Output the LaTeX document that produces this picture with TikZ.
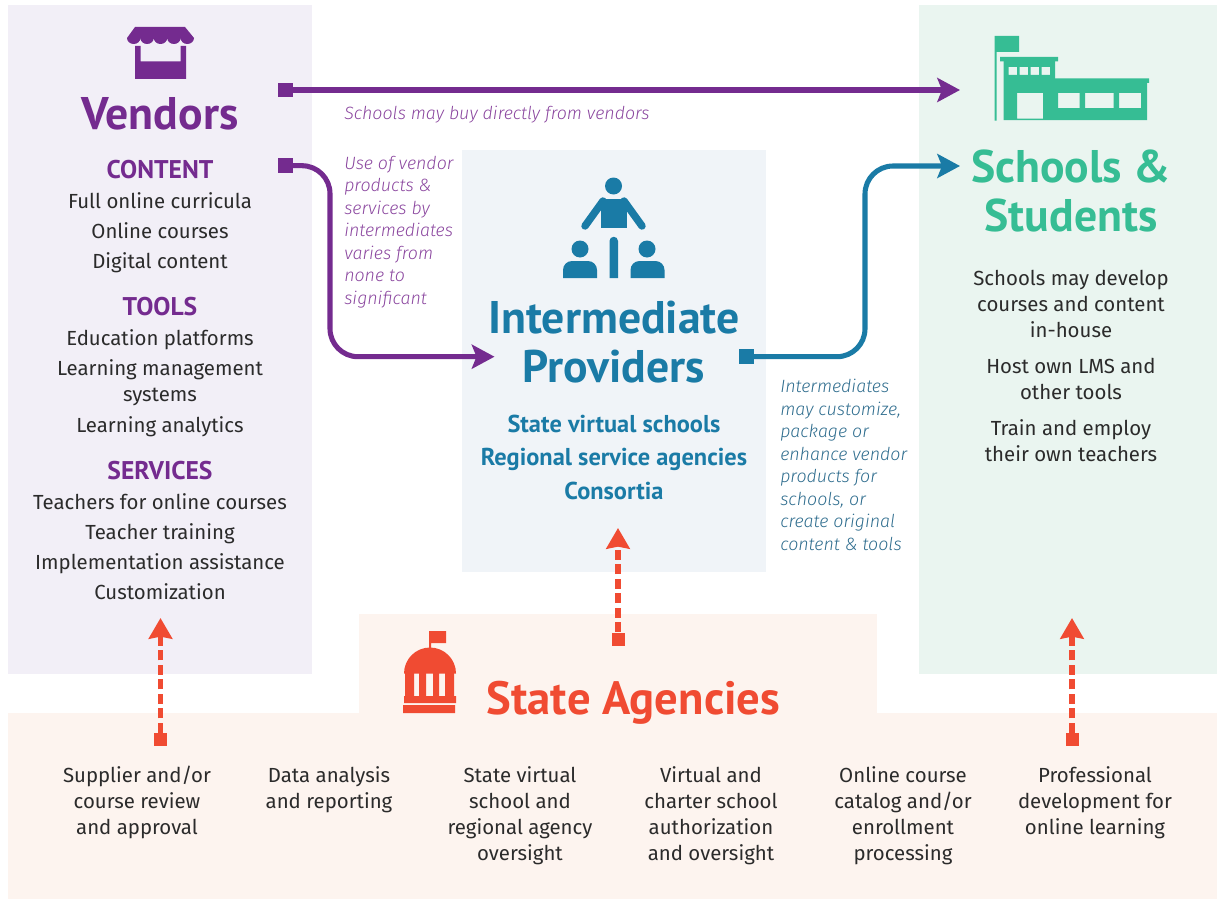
\documentclass[tikz,border=0pt]{standalone}
\usepackage{fontspec}
\setmainfont{Fira Sans}
\newfontfamily\headfont{PT Sans}
\newfontfamily\notefont{Fira Sans Light}[ItalicFont=Fira Sans Light Italic]
\usetikzlibrary{arrows.meta,positioning}
\definecolor{vendorpurple}{HTML}{742B8F}
\definecolor{vendorbg}{HTML}{F2EFF7}
\definecolor{vendornote}{HTML}{8B479F}
\definecolor{providerblue}{HTML}{1A7BA6}
\definecolor{providerbg}{HTML}{F0F4F8}
\definecolor{providernote}{HTML}{2F6D8E}
\definecolor{schoolgreen}{HTML}{36BD94}
\definecolor{schoolbg}{HTML}{EAF5F0}
\definecolor{statered}{HTML}{F04B32}
\definecolor{statebg}{HTML}{FDF4EF}
\definecolor{ink}{HTML}{2B2B2B}
\tikzset{
	title/.style   ={font=\headfont\bfseries\fontsize{34.3}{37}\selectfont, align=center, anchor=base},
	subhead/.style ={font=\headfont\bfseries\fontsize{19.2}{22}\selectfont, text=vendorpurple, anchor=base},
	item/.style    ={font=\fontsize{15.3}{19.5}\selectfont, text=ink, align=center, anchor=base},
	provider/.style={font=\headfont\bfseries\fontsize{18.3}{25}\selectfont, text=providerblue, anchor=base},
	note/.style    ={font=\notefont\itshape\fontsize{13.35}{16.85}\selectfont, align=left, anchor=base west, inner sep=0pt},
	startsq/.style ={rectangle, inner sep=0pt, minimum size=11pt},
	solidarrow/.style={line width=3.8pt, rounded corners=21pt, -{Stealth[length=17pt,width=18pt,inset=3.5pt]}},
	statearrow/.style={line width=3.8pt, color=statered, dash pattern=on 7.5pt off 3.4pt, -{Stealth[length=15.5pt,width=17.5pt,inset=1.5pt]}}
}
\begin{document}
\begin{tikzpicture}[x=0.75pt,y=-0.75pt]
	\useasboundingbox (0,0) rectangle (1217,899);
	% panels
	\fill[vendorbg]   (8,5) rectangle (312,674);
	\fill[providerbg] (462,150) rectangle (766,572);
	\fill[schoolbg]   (919,5) rectangle (1217,674);
	\fill[statebg]    (359,614) rectangle (877,714);
	\fill[statebg]    (8,713) rectangle (1217,899);

	% store icon
	\fill[vendorpurple] (135,27) -- (185,27) -- (194,38)
		arc (0:180:6.7 and 6) arc (0:180:6.7 and 6) arc (0:180:6.7 and 6) arc (0:180:6.7 and 6) arc (0:180:6.7 and 6) -- cycle;
	\fill[vendorpurple] (135,46) -- (140.5,46) -- (140.5,61.5) -- (180.5,61.5) -- (180.5,46) -- (186,46) -- (186,79) -- (135,79) -- cycle;
	% school icon
	\fill[schoolgreen] (994.5,36) rectangle (1019,52) (994.5,52) rectangle (996.5,120.5);
	\fill[schoolgreen] (1000,57) rectangle (1058,61.5) (1055,78.5) rectangle (1149,83);
	\fill[schoolgreen, even odd rule] (1003.5,61) -- (1055,61) -- (1055,83) -- (1147,83) -- (1147,120) -- (1003.5,120) -- cycle
		(1008.5,67) rectangle (1017,75) (1019.5,67) rectangle (1028,75) (1030.5,67) rectangle (1039,75) (1041.5,67) rectangle (1050,75)
		(1017,93) rectangle (1043,118.5) (1058,93) rectangle (1079.5,108) (1085,93) rectangle (1113.5,108) (1119,93) rectangle (1141,108);
	% people icon
	\fill[providerblue] (613.5,186) circle (8.5) (580,249) circle (8.5) (647,249) circle (8.5);
	\fill[providerblue] (601,198.5) rectangle (627,228);
	\draw[providerblue, line width=5.6pt, line cap=round] (603,201) -- (585,226) (624,201) -- (642,226);
	\fill[providerblue] (609.5,278) -- (609.5,241) arc (180:360:4.25) -- (618,278) -- cycle;
	\fill[providerblue] (563,278) -- (563,270) arc (180:270:9) -- (588,261) arc (270:360:9) -- (597,278) -- cycle;
	\fill[providerblue] (630.5,278) -- (630.5,270) arc (180:270:9) -- (655.5,261) arc (270:360:9) -- (664.5,278) -- cycle;
	% capitol icon
	\fill[statered] (429,631) rectangle (446,643) (429,643) rectangle (431,648);
	\fill[statered] (404,673.5) arc (180:360:26) -- cycle;
	\fill[statered] (405,673) rectangle (414,696) (419,673) rectangle (426,696) (433,673) rectangle (439,696) (445,673) rectangle (454,696);
	\fill[statered] (404,696) rectangle (456,703) (403,705) rectangle (455,713);

	% vendors
	\node[title, text=vendorpurple] (vendors) at (160,129) {Vendors};
	\node[subhead] (content) at (160,178) {CONTENT};
	\node[item] (fullcurricula) at (160,208) {Full online curricula};
	\node[item] (onlinecourses) at (160,238) {Online courses};
	\node[item] (digital)       at (160,268) {Digital content};
	\node[subhead] (tools) at (160,315) {TOOLS};
	\node[item] (platforms) at (160,345) {Education platforms};
	\node[item] (lms)       at (160,401) {Learning management\\systems};
	\node[item] (analytics) at (160,432) {Learning analytics};
	\node[subhead] (services) at (160,479) {SERVICES};
	\node[item] (teachers)  at (160,509) {Teachers for online courses};
	\node[item] (training)  at (160,539) {Teacher training};
	\node[item] (assist)    at (160,569) {Implementation assistance};
	\node[item] (custom)    at (160,599) {Customization};

	% intermediate providers
	\node[title, text=providerblue] (intermediate) at (614,333) {Intermediate};
	\node[title, text=providerblue] (providers)    at (614,382) {Providers};
	\node[provider] (virtual)  at (614,432) {State virtual schools};
	\node[provider] (regional) at (614,465) {Regional service agencies};
	\node[provider] (consort)  at (614,499) {Consortia};

	% schools
	\node[title, text=schoolgreen] (schools)  at (1071,182) {Schools \&};
	\node[title, text=schoolgreen] (students) at (1071,231) {Students};
	\node[item] (develop) at (1071,337) {Schools may develop\\courses and content\\in-house};
	\node[item] (host)    at (1071,399) {Host own LMS and\\other tools};
	\node[item] (train)   at (1071,461) {Train and employ\\their own teachers};

	% state agencies
	\node[title, text=statered, font=\headfont\bfseries\fontsize{35}{37}\selectfont] (state) at (633.5,714) {State Agencies};
	\node[item] (supplier)  at (137,834)  {Supplier and/or\\course review\\and approval};
	\node[item] (data)      at (329,808)  {Data analysis\\and reporting};
	\node[item] (oversight) at (520,860)  {State virtual\\school and\\regional agency\\oversight};
	\node[item] (charter)   at (711,860)  {Virtual and\\charter school\\authorization\\and oversight};
	\node[item] (catalog)   at (903,860)  {Online course\\catalog and/or\\enrollment\\processing};
	\node[item] (profdev)   at (1095,834) {Professional\\development for\\online learning};

	% notes
	\node[note, text=vendornote] (buynote) at (344,119) {Schools may buy directly from vendors};
	\node[note, text=vendornote] (usenote) at (344,304) {Use of vendor\\products \&\\services by\\intermediates\\varies from\\none to\\significant};
	\node[note, text=providernote] (customnote) at (780,550) {Intermediates\\may customize,\\package or\\enhance vendor\\products for\\schools, or\\create original\\content \& tools};

	% connectors
	\node[startsq, fill=vendorpurple] (buystart) at (285.5,90) {};
	\coordinate (buyend) at (960,90);
	\draw[solidarrow, vendorpurple] (buystart) -- (buyend);
	\node[startsq, fill=vendorpurple] (usestart) at (285.5,165.7) {};
	\coordinate (usebend) at (330,356.7);
	\coordinate (useend) at (494.5,356.7);
	\draw[solidarrow, vendorpurple] (usestart) -| (usebend) -- (useend);
	\node[startsq, fill=providerblue] (sellstart) at (746.5,356.7) {};
	\coordinate (sellbend) at (865,166);
	\coordinate (sellend) at (960,166);
	\draw[solidarrow, providerblue] (sellstart) -| (sellbend) -- (sellend);
	\node[startsq, fill=statered, minimum size=9.75pt] (agencyvendor) at (160.5,739.7) {};
	\coordinate (vendortip) at (160.5,618);
	\draw[statearrow] (agencyvendor) -- (vendortip);
	\node[startsq, fill=statered, minimum size=9.75pt] (agencyprovider) at (618,639) {};
	\coordinate (providertip) at (618,528);
	\draw[statearrow] (agencyprovider) -- (providertip);
	\node[startsq, fill=statered, minimum size=9.75pt] (agencyschool) at (1072,739.7) {};
	\coordinate (schooltip) at (1072,618);
	\draw[statearrow] (agencyschool) -- (schooltip);
\end{tikzpicture}
\end{document}
